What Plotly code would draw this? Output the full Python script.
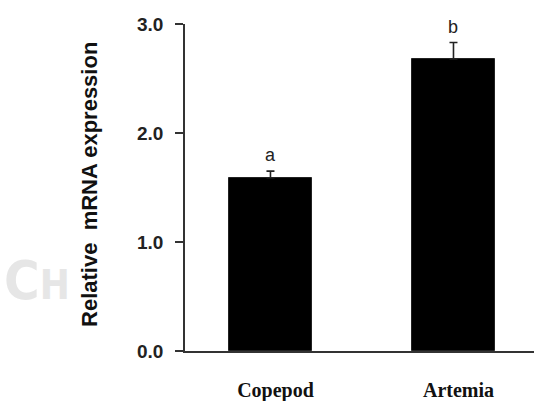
import plotly.graph_objects as go

# Relative expression by diet
diets = ["Copepod", "Artemia"]
expression = [1.59, 2.68]
sem = [0.06, 0.15]
letters = ["a", "b"]
y_ticks = [0.0, 1.0, 2.0, 3.0]
y_ticklabels = ["0.0", "1.0", "2.0", "3.0"]

axis_color = "#333333"

fig = go.Figure()
fig.add_trace(go.Bar(
    x=diets,
    y=expression,
    width=0.454,
    marker=dict(color="black", line=dict(color="#222222", width=1)),
    # upper error bars only
    error_y=dict(type="data", array=sem, arrayminus=[0] * len(sem), symmetric=False,
                 color="#222222", thickness=1.6, width=4),
    showlegend=False,
))

# significance letters above each error bar
for d, m, e, l in zip(diets, expression, sem, letters):
    fig.add_annotation(x=d, y=m + e, text=l, showarrow=False,
                       yanchor="bottom", yshift=4,
                       font=dict(family="Liberation Sans, Arial", size=18, color="#222222"))

# y-axis title
fig.add_annotation(xref="paper", yref="paper", x=-0.272, y=0.508,
                   text="Relative&nbsp; mRNA expression", textangle=-90,
                   showarrow=False, xanchor="center", yanchor="middle",
                   font=dict(family="Liberation Sans, Arial", size=22, color="#111111",
                             weight="bold"))

# faint watermark
fig.add_annotation(xref="paper", yref="paper", x=-0.425, y=0.215,
                   text="<span style='font-size:54px'>C</span><span style='font-size:40px'>H</span>",
                   showarrow=False, xanchor="center", yanchor="middle",
                   font=dict(family="Liberation Sans Narrow, DejaVu Sans Condensed, Arial", size=54,
                             color="#e6e6e6", weight="bold"))

fig.update_layout(
    width=534, height=401,
    margin=dict(l=185, r=0, t=24, b=50, pad=0),
    paper_bgcolor="white", plot_bgcolor="white",
    bargap=0,
    xaxis=dict(
        range=[-0.467, 1.44],
        showline=True, linecolor=axis_color, linewidth=1.6,
        ticks="", showgrid=False, zeroline=False,
        tickfont=dict(family="Liberation Serif, Times New Roman", size=20,
                      color="#111111", weight="bold"),
        ticklabelstandoff=20, ticklabelshift=5,
    ),
    yaxis=dict(
        range=[0, 3.0],
        tickvals=y_ticks, ticktext=y_ticklabels,
        showline=True, linecolor=axis_color, linewidth=1.6,
        ticks="outside", ticklen=8, tickwidth=1.6, tickcolor=axis_color,
        showgrid=False, zeroline=False,
        tickfont=dict(family="Liberation Sans, Arial", size=19,
                      color="#222222", weight="bold"),
        ticklabelstandoff=8,
    ),
)

fig.write_html("out.html")
